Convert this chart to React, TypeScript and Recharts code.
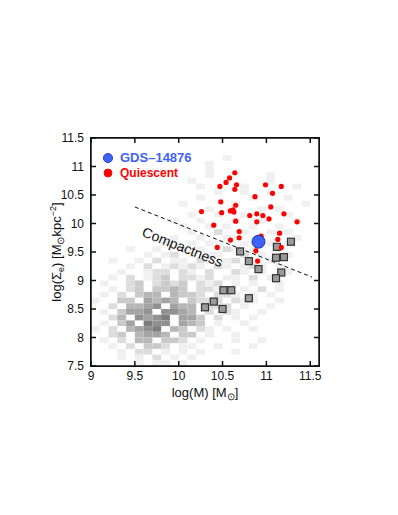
import { ScatterChart, Scatter, XAxis, YAxis, ReferenceArea, ReferenceLine } from "recharts";

const FONT = '"Liberation Sans", Arial, Helvetica, sans-serif';

const W = 390;
const H = 500;
const margin = { top: 130, right: 79, bottom: 102, left: 0 };
const yAxisWidth = 83;
const xAxisHeight = 40;
const plotTop = margin.top;
const plotRight = W - margin.right;
const plotLeft = margin.left + yAxisWidth;
const plotBottom = H - margin.bottom - xAxisHeight;

const xDomain = [9, 11.6];
const yDomain = [7.5, 11.5];
const xTicks = [9, 9.5, 10, 10.5, 11, 11.5];
const yTicks = [7.5, 8, 8.5, 9, 9.5, 10, 10.5, 11, 11.5];

// red dots
const quiescent = [
  { x: 10.64, y: 10.89 }, { x: 10.58, y: 10.8 }, { x: 10.54, y: 10.72 }, { x: 10.47, y: 10.65 },
  { x: 10.66, y: 10.68 }, { x: 10.64, y: 10.6 }, { x: 10.99, y: 10.68 }, { x: 11.17, y: 10.65 },
  { x: 11.07, y: 10.53 }, { x: 10.87, y: 10.47 }, { x: 10.48, y: 10.38 }, { x: 10.65, y: 10.32 },
  { x: 11.05, y: 10.29 }, { x: 10.26, y: 10.21 }, { x: 10.49, y: 10.19 }, { x: 10.59, y: 10.22 },
  { x: 10.62, y: 10.24 }, { x: 10.63, y: 10.2 }, { x: 11.2, y: 10.17 }, { x: 10.81, y: 10.14 },
  { x: 10.89, y: 10.17 }, { x: 10.96, y: 10.14 }, { x: 11.03, y: 10.08 }, { x: 10.65, y: 10.04 },
  { x: 10.89, y: 10.03 }, { x: 11.35, y: 10.03 }, { x: 10.4, y: 9.97 }, { x: 10.69, y: 9.86 },
  { x: 11.15, y: 9.83 }, { x: 10.94, y: 9.78 }, { x: 10.69, y: 9.75 }, { x: 10.59, y: 9.71 },
  { x: 11.13, y: 9.72 }, { x: 10.44, y: 9.58 }, { x: 11.17, y: 9.58 }, { x: 10.88, y: 9.52 },
  { x: 10.9, y: 9.34 },
];

// grey squares
const squares = [
  { x: 10.7, y: 9.51 }, { x: 11.12, y: 9.59 }, { x: 11.28, y: 9.68 }, { x: 10.8, y: 9.34 },
  { x: 11.11, y: 9.4 }, { x: 11.2, y: 9.41 }, { x: 10.91, y: 9.2 }, { x: 11.17, y: 9.14 },
  { x: 11.11, y: 9.04 }, { x: 10.51, y: 8.83 }, { x: 10.6, y: 8.83 }, { x: 10.4, y: 8.63 },
  { x: 10.3, y: 8.53 }, { x: 10.5, y: 8.5 }, { x: 10.8, y: 8.69 },
];

const gds = [{ x: 10.91, y: 9.68 }];

const compactLine = [{ x: 9.5, y: 10.29 }, { x: 11.52, y: 9.06 }];
const compactLabel = [{ x: 10.045, y: 9.59, text: "Compactness" }];

// background 2D histogram: rows from y=11.2 downwards, columns from x=9.0, 0.1 wide
const histX0 = 9.0;
const histYTop = 11.2;
const histBin = 0.1;
const histRows = [
  "...............1.........",
  ".............1...........",
  ".............1...........",
  ".............1......1....",
  "...........1........1....",
  "............1....1.....1.",
  "..............1..1..1....",
  "............1.....1...1..",
  "..........1.....1.......1",
  ".............1.....1.1...",
  "...........1..1..1....1..",
  ".........1..1...1..1...1.",
  "..........1..1.1..1..1...",
  "...........1..2..1..1.1..",
  ".........1..1..11..1...1.",
  "........1..1.11..1..1.1..",
  "....1..1..1.1..21.1..1...",
  "......1.12.1.11..2.1..1..",
  "..1..1.2.11.21.12.1.1....",
  "....1.2.12121.21.121.1...",
  "...1..122.21.2..21.1..1..",
  "..1.2.123.2212.11.2.1....",
  ".1..23.2323.212.1.1..1...",
  "..1.23.3343.2212.1.2.1...",
  ".1.2.344.4332.221.1.1....",
  "1..33.5454.3222.211..1...",
  "..2.4456.544.222.1..1....",
  ".1.3556.6654.2.21..1.....",
  "..24.6567.553.2.1.1......",
  ".1.35.766.543.1..1.......",
  "1.2.4567.43.21.1..1......",
  "..23.4554.33.1..1........",
  ".1.2.44.332.1...1..1.....",
  "..1.2.332.11..1...1......",
  "...1.22.1.1.1...1........",
  "...1.1.2.1.1.............",
  ".....1.11.1..............",
];

const grey = (level: number) => {
  const g = Math.max(90, 240 - (level - 1) * 19);
  return `rgb(${g},${g},${g})`;
};

const cells = histRows.flatMap((row, r) =>
  row.split("").flatMap((ch, c) => {
    const level = parseInt(ch, 10);
    if (Number.isNaN(level)) return [];
    const x1 = +(histX0 + c * histBin).toFixed(2);
    const y2 = +(histYTop - r * histBin).toFixed(2);
    return [{ x1, x2: +(x1 + histBin).toFixed(2), y1: +(y2 - histBin).toFixed(2), y2, level }];
  })
);

const axisStroke = { stroke: "#111", strokeWidth: 1.5 };

// bottom tick label, plus the mirrored inward tick on the top edge
function XTick({ x, y, payload }: any) {
  return (
    <g>
      <text x={x} y={y} dy="0.71em" textAnchor="middle" fontSize={12} fontFamily={FONT} fill="#111">
        {payload.value}
      </text>
      <line x1={x} x2={x} y1={plotTop} y2={plotTop + 5} stroke="#111" strokeWidth={1.5} />
    </g>
  );
}

// left tick label, plus the mirrored inward tick on the right edge
function YTick({ x, y, payload }: any) {
  return (
    <g>
      <text x={x} y={y} dy="0.355em" textAnchor="end" fontSize={12} fontFamily={FONT} fill="#111">
        {payload.value}
      </text>
      <line x1={plotRight - 5} x2={plotRight} y1={y} y2={y} stroke="#111" strokeWidth={1.5} />
    </g>
  );
}

// x-axis title; also closes the plot frame (top and right edges)
function XTitle({ viewBox }: any) {
  const cx = viewBox.x + viewBox.width / 2;
  const y = viewBox.y + 31;
  return (
    <g>
      <polyline
        points={`${plotLeft},${plotTop} ${plotRight},${plotTop} ${plotRight},${plotBottom}`}
        fill="none"
        stroke="#111"
        strokeWidth={1.5}
      />
      <text x={cx} y={y} textAnchor="middle" fontSize={13} fontFamily={FONT} fill="#111">
        log(M) [M<tspan dy={3} fontSize={10}>⊙</tspan>
        <tspan dy={-3}>]</tspan>
      </text>
    </g>
  );
}

function YTitle({ viewBox }: any) {
  const cx = viewBox.x + 53;
  const cy = viewBox.y + viewBox.height / 2;
  return (
    <text
      x={cx}
      y={cy}
      transform={`rotate(-90, ${cx}, ${cy})`}
      textAnchor="middle"
      fontSize={13}
      fontFamily={FONT}
      fill="#111"
    >
      log(Σ<tspan dy={3} fontSize={9}>e</tspan>
      <tspan dy={-3}>) [M</tspan>
      <tspan dy={3} fontSize={10}>⊙</tspan>
      <tspan dy={-3}>kpc</tspan>
      <tspan dy={-5} fontSize={9}>−2</tspan>
      <tspan dy={5}>]</tspan>
    </text>
  );
}

const RedDot = (p: any) => <circle cx={p.cx} cy={p.cy} r={2.6} fill="#f00" />;
const GreySquare = (p: any) => (
  <rect x={p.cx - 3.5} y={p.cy - 3.5} width={7} height={7} fill="#9a9a9a" stroke="#333" strokeWidth={1.2} />
);
const BlueDot = (p: any) => (
  <circle cx={p.cx} cy={p.cy} r={6.5} fill="#3f62f8" stroke="#1c2f9a" strokeWidth={1} />
);
const RotatedLabel = (p: any) => (
  <text
    x={p.cx}
    y={p.cy}
    transform={`rotate(21.5, ${p.cx}, ${p.cy})`}
    textAnchor="middle"
    dominantBaseline="central"
    fontSize={14}
    fontFamily={FONT}
    fill="#111"
  >
    {p.payload.text}
  </text>
);

function LegendBox() {
  const item = (color: string, border: string, r: number, label: string, size: number, top: number) => (
    <div style={{ position: "absolute", left: 0, top, display: "flex", alignItems: "center", whiteSpace: "nowrap" }}>
      <svg width={14} height={14} style={{ marginRight: 5 }}>
        <circle cx={7} cy={7} r={r} fill={color} stroke={border} strokeWidth={0.8} />
      </svg>
      <span style={{ color, fontSize: size, fontWeight: "bold", fontFamily: FONT }}>{label}</span>
    </div>
  );
  return (
    <div style={{ position: "absolute", left: 93, top: 142, pointerEvents: "none" }}>
      {item("#3f62f8", "#1c2f9a", 4.6, "GDS–14876", 13, 0)}
      {item("#f00", "#f00", 4, "Quiescent", 12, 16)}
    </div>
  );
}

export default function App() {
  return (
    <div style={{ position: "relative", width: W, height: H }}>
      <ScatterChart width={W} height={H} margin={margin}>
        <XAxis
          type="number"
          dataKey="x"
          domain={xDomain}
          ticks={xTicks}
          allowDataOverflow
          height={xAxisHeight}
          tickSize={-5}
          tickMargin={10}
          tick={XTick}
          axisLine={axisStroke}
          tickLine={axisStroke}
          label={XTitle}
        />
        <YAxis
          type="number"
          dataKey="y"
          domain={yDomain}
          ticks={yTicks}
          allowDataOverflow
          width={yAxisWidth}
          tickSize={-5}
          tickMargin={12}
          tick={YTick}
          axisLine={axisStroke}
          tickLine={axisStroke}
          label={YTitle}
        />
        {cells.map((c, i) => (
          <ReferenceArea
            key={i}
            x1={c.x1}
            x2={c.x2}
            y1={c.y1}
            y2={c.y2}
            fill={grey(c.level)}
            fillOpacity={1}
            stroke="none"
            strokeWidth={0}
          />
        ))}
        <ReferenceLine segment={compactLine} stroke="#111" strokeWidth={1} strokeDasharray="4 3" />
        <Scatter data={compactLabel} shape={RotatedLabel} isAnimationActive={false} />
        <Scatter data={squares} shape={GreySquare} isAnimationActive={false} />
        <Scatter data={quiescent} shape={RedDot} isAnimationActive={false} />
        <Scatter data={gds} shape={BlueDot} isAnimationActive={false} />
      </ScatterChart>
      {/* frame around the plot area */}
      <div
        style={{
          position: "absolute",
          left: plotLeft - 0.75,
          top: plotTop - 0.75,
          width: plotRight - plotLeft + 1.5,
          height: plotBottom - plotTop + 1.5,
          border: "1.5px solid #111",
          boxSizing: "border-box",
          pointerEvents: "none",
        }}
      />
      <LegendBox />
    </div>
  );
}
